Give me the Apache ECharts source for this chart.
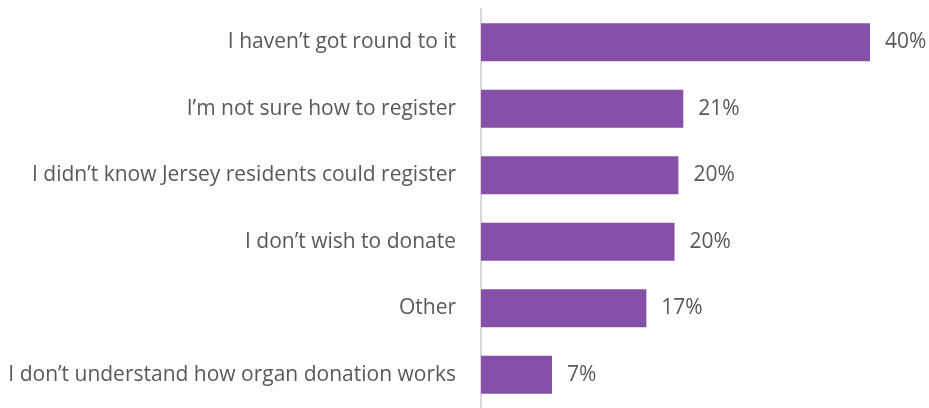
<!DOCTYPE html>
<html>
<head>
<meta charset="utf-8">
<script src="https://cdn.jsdelivr.net/npm/echarts@6/dist/echarts.min.js"></script>
<style>
  html, body { margin: 0; padding: 0; background: #fff; }
  #chart { width: 929px; height: 408px; }
</style>
</head>
<body>
<div id="chart"></div>
<script>
// 类别（从上到下）
const categories = [
    'I haven\u2019t got round to it',
    'I\u2019m not sure how to register',
    'I didn\u2019t know Jersey residents could register',
    'I don\u2019t wish to donate',
    'Other',
    'I don\u2019t understand how organ donation works'
];
// 百分比数值
const values = [40.0, 20.8, 20.3, 19.9, 17.0, 7.3];

const chart = echarts.init(document.getElementById('chart'));

const option = {
    animation: false,
    grid: { left: 481, top: 9, width: 389, height: 407 },
    xAxis: {
        type: 'value',
        min: 0,
        max: 40,
        show: false
    },
    yAxis: {
        type: 'category',
        inverse: true,
        data: categories,
        axisLine: { show: true, lineStyle: { color: '#d9d9d9', width: 2 } },
        axisTick: { show: false },
        axisLabel: {
            margin: 25,
            color: '#595959',
            fontSize: 21,
            fontFamily: 'Open Sans',
            padding: [7, 0, 0, 0]
        }
    },
    series: [
        {
            type: 'bar',
            data: values,
            barWidth: 38,
            itemStyle: { color: '#8650a8' },
            label: {
                show: true,
                position: 'right',
                distance: 15,
                color: '#595959',
                fontSize: 21,
                fontFamily: 'Open Sans',
                padding: [7, 0, 0, 0],
                formatter: p => Math.round(p.value) + '%'
            }
        }
    ]
};

chart.setOption(option);
window.addEventListener('resize', () => chart.resize());
</script>
</body>
</html>
